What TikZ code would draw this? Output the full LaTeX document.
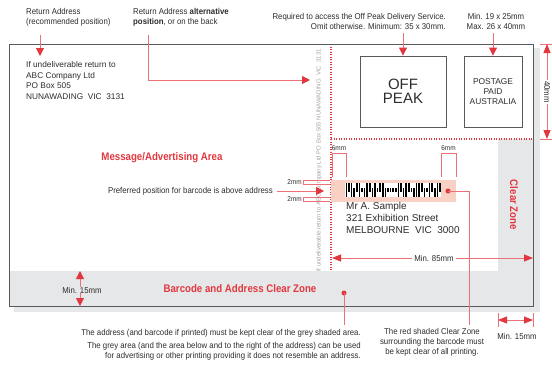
\documentclass[tikz,border=0pt]{standalone}
\usepackage{fontspec}
\setmainfont{Liberation Sans}
\newfontfamily\cond[FakeStretch=0.92]{Liberation Sans}
\newfontfamily\condh[FakeStretch=0.88]{Liberation Sans}
\usetikzlibrary{arrows.meta}
\definecolor{apred}{RGB}{226,55,63}
\definecolor{apline}{RGB}{236,112,118}
\definecolor{appink}{RGB}{249,208,196}
\definecolor{apgrey}{RGB}{230,231,232}
\definecolor{apdark}{RGB}{88,89,91}
\definecolor{aptext}{RGB}{45,45,45}
\definecolor{apfaint}{RGB}{165,165,165}
\begin{document}
\begin{tikzpicture}[x=1pt,y=-1pt,
  note/.style={font=\cond\fontsize{8.5}{10}\selectfont, text=aptext, inner sep=0pt},
  small/.style={font=\cond\fontsize{7}{8}\selectfont, text=aptext, inner sep=0pt},
  head/.style={font=\condh\bfseries\fontsize{11}{13}\selectfont, text=apred, inner sep=0pt},
  addr/.style={font=\fontsize{8.3}{10.5}\selectfont, text=aptext, inner sep=0pt, align=left},
  ptr/.style={draw=apline, line width=0.9pt, -{Triangle[length=8pt,width=8pt,color=apred]}},
  dim/.style={draw=apline, line width=0.9pt, {Triangle[length=9pt,width=7pt,color=apred]}-{Triangle[length=9pt,width=7pt,color=apred]}},
  tick/.style={draw=apline, line width=0.9pt},
  dotline/.style={draw=apred, line width=1.2pt, dash pattern=on 1.2pt off 1.3pt},
  stampbox/.style={draw=apdark, line width=0.9pt, fill=white, inner sep=0pt, align=center, text=aptext},
  dot/.style={circle, fill=apred, inner sep=0pt, minimum size=5pt}
]
\useasboundingbox (0,0) rectangle (552,372);
\fill[white] (0,0) rectangle (552,372);
% shadow
\fill[apgrey] (14,48) rectangle (540,312);
% envelope
\fill[white] (9,44) rectangle (533,306);
\fill[apgrey] (9,271) rectangle (533,306);
\fill[apgrey] (498,139) rectangle (533,271);
% dotted limits
\draw[dotline] (331,44) -- (331,271);
\draw[dotline] (331,139) -- (533,139);
\draw[apdark, line width=1pt] (9,44) rectangle (533,306);

% stamp boxes
\node[stampbox, minimum width=86pt, minimum height=71pt, font=\fontsize{15}{14}\selectfont] (offpeak) at (403,91.5) {OFF\\PEAK};
\node[stampbox, minimum width=58pt, minimum height=71pt, font=\fontsize{8.4}{10}\selectfont] (postage) at (493,91.5) {POSTAGE\\PAID\\AUSTRALIA};

% top notes
\node[note, anchor=north west, align=left] (ra) at (26,8.5) {Return Address\\(recommended position)};
\node[note, anchor=north west, align=left] (alt) at (133,8.5) {Return Address \textbf{alternative}\\\textbf{position}, or on the back};
\node[note, anchor=north east, align=right] (req) at (446,13.5) {Required to access the Off Peak Delivery Service.\\Omit otherwise. Minimum: 35 x 30mm.};
\node[note, anchor=north, align=center] (minmax) at (496,13.5) {Min. 19 x 25mm\\Max. 26 x 40mm};

\coordinate (ratip) at (40,56);
\coordinate (alttip) at (310,80);
\draw[ptr] ([shift={(0,8)}]ra.south -| ratip) -- (ratip);
\draw[ptr] ([shift={(0,8)}]alt.south -| 148,0) -- (148,80) -- (alttip);
\draw[ptr] ([shift={(0,3)}]req.south -| offpeak.north) -- (offpeak.north);
\draw[ptr] ([shift={(0,3)}]minmax.south -| postage.north) -- (postage.north);

% return address
\node[addr, anchor=north west] (retaddr) at (26,61.5) {If undeliverable return to\\ABC Company Ltd\\PO Box 505\\NUNAWADING\ \ VIC\ \ 3131};

% alternative position text
\node[font=\fontsize{6}{7}\selectfont, text=apfaint, inner sep=0pt, rotate=90] (altaddr) at (319,160.5) {If undeliverable return to ABC Company Ltd PO Box 505 NUNAWADING\ \ VIC\ \ 3131};

% 40mm
\draw[tick] (540,44) -- (552,44);
\draw[tick] (540,139) -- (552,139);
\draw[dim] (547,44) -- (547,139);
\node[note, fill=white, inner sep=1.5pt, rotate=-90] (d40) at (547,92) {40mm};

% headings
\node[head] (msg) at (162,158) {Message/Advertising Area};
\node[head] (bazone) at (240,289) {Barcode and Address Clear Zone};
\node[head, rotate=-90] (cz) at (514,205) {Clear Zone};

% barcode zone
\fill[appink] (331,180) rectangle (456,202);
\fill[white] (345,183) rectangle (441,197);
\foreach \a/\b [count=\i from 0] in {183/197,183/192,183/197,188/197,183/192,183/197,188/192,188/197,183/197,183/192,188/197,183/197,188/192,183/192,183/197,188/197,188/192,188/192,188/192,188/192,183/197,183/192,188/197,183/197,183/192,188/192,188/197,183/197,183/197,183/192,188/197,188/192,183/197,183/192,188/197,183/197,183/192}
  \fill[black] (345.6+\i*2.6,\a) rectangle (347.2+\i*2.6,\b);

% 6mm and 2mm markers
\draw[tick] (332,177) -- (332,153) -- (346,153) -- (346,177);
\draw[tick] (441,177) -- (441,153) -- (456,153) -- (456,177);
\node[small] (six1) at (339,148) {6mm};
\node[small] (six2) at (448.5,148) {6mm};
\draw[tick] (330,180) -- (303,180) -- (303,184) -- (330,184);
\draw[tick] (330,197) -- (303,197) -- (303,201) -- (330,201);
\node[small, anchor=east] (two1) at (302,182) {2mm};
\node[small, anchor=east] (two2) at (302,199) {2mm};

\node[note, anchor=east] (pref) at (273,191) {Preferred position for barcode is above address};
\coordinate (preftip) at (324,191);
\draw[ptr] ([shift={(4,0)}]pref.east) -- (preftip);

% delivery address
\node[font=\fontsize{10}{12}\selectfont, text=aptext, inner sep=0pt, align=left, anchor=north west] (deliv) at (346,202) {Mr A. Sample\\321 Exhibition Street\\MELBOURNE\ \ VIC\ \ 3000};

% red zone pointer
\node[dot] (rdot) at (448,191) {};
\node[note, anchor=north, align=center] (rednote) at (432,328.5) {The red shaded Clear Zone\\surrounding the barcode must\\be kept clear of all printing.};
\draw[apline, line width=0.9pt] (rdot.center) -- (469,191) -- (469,325);

% grey zone pointer
\node[dot] (gdot) at (344,293) {};
\draw[apline, line width=0.9pt] (gdot.center) -- (344,325);
\node[note, anchor=north east, align=right] (greynote1) at (361,329.5) {The address (and barcode if printed) must be kept clear of the grey shaded area.};
\node[note, anchor=north east, align=right] (greynote2) at (361,342.5) {The grey area (and the area below and to the right of the address) can be used\\for advertising or other printing providing it does not resemble an address.};

% 85mm
\draw[dim] (332,258) -- (533,258);
\node[note, fill=white, inner sep=2pt] (d85) at (434,258) {Min. 85mm};

% 15mm left
\node[note] (l15) at (82,290) {Min. 15mm};
\draw[ptr] (l15.north -| 80,0) -- (80,271);
\draw[ptr] (l15.south -| 80,0) -- (80,306);

% 15mm right
\draw[tick] (498,313) -- (498,327);
\draw[tick] (533,313) -- (533,327);
\draw[dim] (498,320) -- (533,320);
\node[note] (r15) at (517,336) {Min. 15mm};
\end{tikzpicture}
\end{document}
